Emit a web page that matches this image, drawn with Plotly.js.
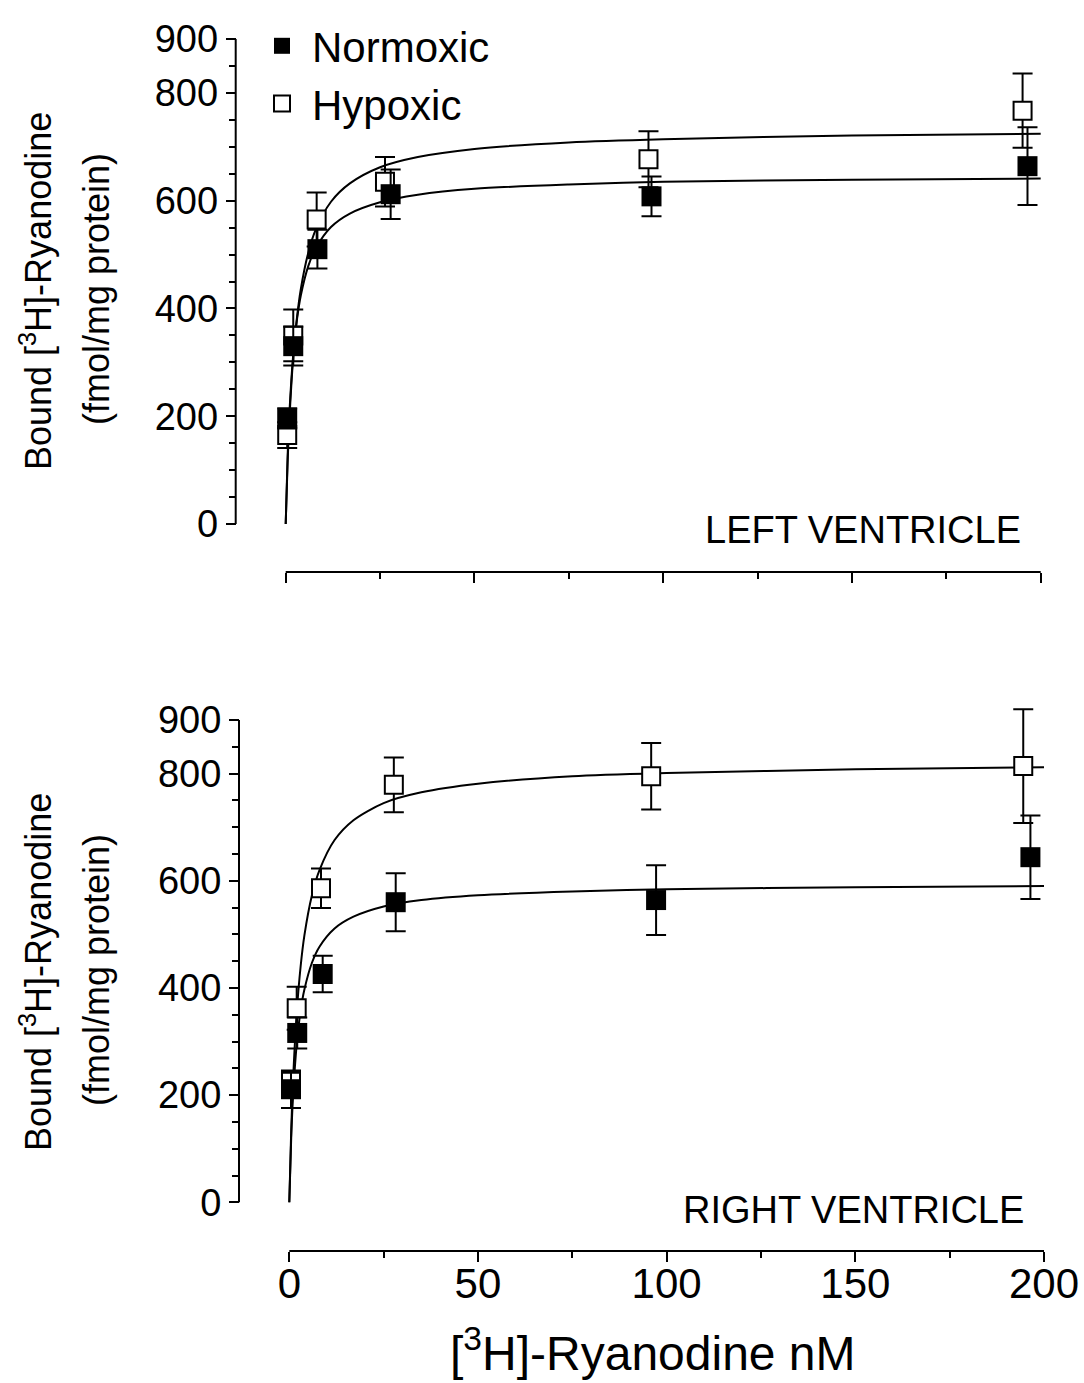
<!DOCTYPE html>
<html>
<head>
<meta charset="utf-8">
<script src="https://cdn.plot.ly/plotly-3.0.1.min.js"></script>
<style>html,body{margin:0;padding:0;background:#fff;}#chart{width:1084px;height:1383px;}</style>
</head>
<body>
<div id="chart"></div>
<script>
// ---------- data ----------
// Left ventricle (top panel)
const lvNormX = [0.4, 2.0, 8.4, 27.8, 96.9, 196.5];
const lvNormY = [196, 330, 510, 612, 608, 664];
const lvNormErr = [19, 36, 36, 46, 37, 72];
const lvHypX = [0.4, 2.0, 8.2, 26.3, 96.1, 195.2];
const lvHypY = [165, 350, 565, 635, 677, 767];
const lvHypErr = [24, 48, 50, 46, 52, 69];

// Right ventricle (bottom panel)
const rvNormX = [0.45, 2.1, 8.85, 28.2, 97.2, 196.4];
const rvNormY = [211, 316, 426, 560, 564, 644];
const rvNormErr = [35, 29, 34, 54, 65, 78];
const rvHypX = [0.45, 1.96, 8.4, 27.7, 95.9, 194.5];
const rvHypY = [225, 362, 586, 779, 795, 814];
const rvHypErr = [20, 40, 37, 51, 62, 106];

// Fitted saturation curves
const curveX = [0, 0.5, 1, 2, 3, 4, 6, 8, 12, 17, 25, 35, 50, 75, 100, 150, 200];
const lvNormCurve = [0, 124, 208, 315, 380, 424, 479, 512, 551, 576, 597, 611, 622, 630, 635, 639, 641];
const lvHypCurve = [0, 113, 196, 310, 384, 436, 504, 547, 598, 632, 662, 681, 696, 708, 714, 721, 724];
const rvNormCurve = [0, 119, 199, 298, 358, 397, 447, 477, 511, 533, 552, 564, 573, 580, 584, 588, 590];
const rvHypCurve = [0, 133, 228, 357, 440, 498, 573, 620, 676, 713, 745, 765, 781, 795, 801, 808, 812];

// Ticks and labels
const xTickVals = [0, 50, 100, 150, 200];
const xTickText = ['0', '50', '100', '150', '200'];
const yTickVals = [0, 200, 400, 600, 800, 900];
const yTickText = ['0', '200', '400', '600', '800', '900'];
const xAxisExtent = [0, 200];
const yAxisExtent = [0, 900];
const seriesNames = ['Normoxic', 'Hypoxic'];
const panelLabels = ['LEFT VENTRICLE', 'RIGHT VENTRICLE'];
const yTitleLines = ['Bound [<sup>3</sup>H]-Ryanodine', '(fmol/mg protein)'];
const xTitle = '[<sup>3</sup>H]-Ryanodine nM';

// ---------- layout helpers ----------
const W = 1084, H = 1383;
const px = v => v / W;
const py = v => 1 - v / H;
const FONT = 'Liberation Sans, Arial, Helvetica, sans-serif';

// data ranges slightly wider than the drawn axis lines so caps are not clipped
const xRange = [-6, 206];
const yRange = [-30, 940];
// pixel anchors: value 0 and value max of each panel
function domainFor(range, p0, pMax, vMax, vertical) {
  const s = (pMax - p0) / vMax;
  const a = p0 + range[0] * s, b = p0 + range[1] * s;
  return vertical ? [py(a), py(b)] : [px(a), px(b)];
}

function curveTrace(x, y, xa, ya) {
  return {x: x, y: y, xaxis: xa, yaxis: ya, mode: 'lines', type: 'scatter',
    line: {color: '#000', width: 2, shape: 'spline', smoothing: 0.8},
    showlegend: false, hoverinfo: 'skip'};
}
function pointTrace(x, y, err, xa, ya, filled, name, show, rank) {
  return {x: x, y: y, xaxis: xa, yaxis: ya, mode: 'markers', type: 'scatter',
    name: name, showlegend: show, legendrank: rank, cliponaxis: false,
    marker: {symbol: 'square', size: filled ? 20 : 18,
      color: filled ? '#000' : '#fff', line: {color: '#000', width: filled ? 0 : 2}},
    error_y: {type: 'data', array: err, visible: true, color: '#000', thickness: 2, width: 10}};
}

const data = [
  curveTrace(curveX, lvHypCurve, 'x', 'y'),
  curveTrace(curveX, lvNormCurve, 'x', 'y'),
  curveTrace(curveX, rvHypCurve, 'x2', 'y2'),
  curveTrace(curveX, rvNormCurve, 'x2', 'y2'),
  pointTrace(lvHypX, lvHypY, lvHypErr, 'x', 'y', false, seriesNames[1], true, 2),
  pointTrace(lvNormX, lvNormY, lvNormErr, 'x', 'y', true, seriesNames[0], true, 1),
  pointTrace(rvHypX, rvHypY, rvHypErr, 'x2', 'y2', false, seriesNames[1], false, 4),
  pointTrace(rvNormX, rvNormY, rvNormErr, 'x2', 'y2', true, seriesNames[0], false, 3)
];

function xAxis(domain, pos, labels) {
  return {domain: domain, range: xRange, anchor: 'free', position: pos,
    showline: false,
    ticks: 'outside', ticklen: 10, tickwidth: 2, tickcolor: '#000',
    tickmode: 'array', tickvals: xTickVals, ticktext: xTickText,
    showticklabels: labels, tickfont: {family: FONT, size: 42, color: '#000'},
    ticklabelstandoff: -14,
    minor: {tickmode: 'linear', tick0: 0, dtick: 25, ticks: 'outside', ticklen: 6, tickwidth: 2, tickcolor: '#000', showgrid: false},
    showgrid: false, zeroline: false, automargin: false, fixedrange: true};
}
function yAxis(domain, pos) {
  return {domain: domain, range: yRange, anchor: 'free', position: pos,
    showline: false,
    ticks: 'outside', ticklen: 10, tickwidth: 2, tickcolor: '#000',
    tickmode: 'array', tickvals: yTickVals, ticktext: yTickText,
    tickfont: {family: FONT, size: 38, color: '#000'},
    minor: {tickmode: 'linear', tick0: 0, dtick: 50, ticks: 'outside', ticklen: 7, tickwidth: 2, tickcolor: '#000', showgrid: false},
    showgrid: false, zeroline: false, automargin: false, fixedrange: true};
}

const ann = [];
function txt(text, x, y, size, xanchor, angle) {
  ann.push({text: text, xref: 'paper', yref: 'paper', x: x, y: y, xanchor: xanchor, yanchor: 'middle',
    showarrow: false, textangle: angle || 0, font: {family: FONT, size: size, color: '#000'}});
}
txt(panelLabels[0], px(1023), py(530), 38, 'right');
txt(panelLabels[1], px(1026), py(1210), 38, 'right');
txt(yTitleLines[0], px(36), py(291), 36, 'center', -90);
txt(yTitleLines[1], px(96), py(289), 36, 'center', -90);
txt(yTitleLines[0], px(36), py(972), 36, 'center', -90);
txt(yTitleLines[1], px(96), py(970), 36, 'center', -90);
txt(xTitle, px(653), py(1350), 48, 'center');

// axis lines spanning only the labelled extent (as in the reference)
const axisLine = {color: '#000', width: 2};
const shapes = [
  {type: 'line', xref: 'x', yref: 'paper', x0: xAxisExtent[0], x1: xAxisExtent[1], y0: py(572), y1: py(572), line: axisLine},
  {type: 'line', xref: 'paper', yref: 'y', x0: px(235.7), x1: px(235.7), y0: yAxisExtent[0], y1: yAxisExtent[1], line: axisLine},
  {type: 'line', xref: 'x2', yref: 'paper', x0: xAxisExtent[0], x1: xAxisExtent[1], y0: py(1251), y1: py(1251), line: axisLine},
  {type: 'line', xref: 'paper', yref: 'y2', x0: px(239), x1: px(239), y0: yAxisExtent[0], y1: yAxisExtent[1], line: axisLine}
];

const layout = {
  width: W, height: H, autosize: false,
  margin: {l: 0, r: 0, t: 0, b: 0, pad: 0},
  paper_bgcolor: '#fff', plot_bgcolor: 'rgba(0,0,0,0)',
  font: {family: FONT, color: '#000'},
  xaxis: xAxis(domainFor(xRange, 285.7, 1040.7, 200, false), py(572), false),
  yaxis: yAxis(domainFor(yRange, 524, 39, 900, true), px(235.7)),
  xaxis2: xAxis(domainFor(xRange, 289.3, 1044, 200, false), py(1251), true),
  yaxis2: yAxis(domainFor(yRange, 1202.3, 720, 900, true), px(239)),
  showlegend: true,
  legend: {x: px(252), y: py(12), xanchor: 'left', yanchor: 'top', itemwidth: 50,
    font: {family: FONT, size: 42, color: '#000'}, bgcolor: 'rgba(0,0,0,0)',
    borderwidth: 0, tracegroupgap: 0},
  shapes: shapes,
  annotations: ann
};

Plotly.newPlot('chart', data, layout, {staticPlot: true, displayModeBar: false});
</script>
</body>
</html>
